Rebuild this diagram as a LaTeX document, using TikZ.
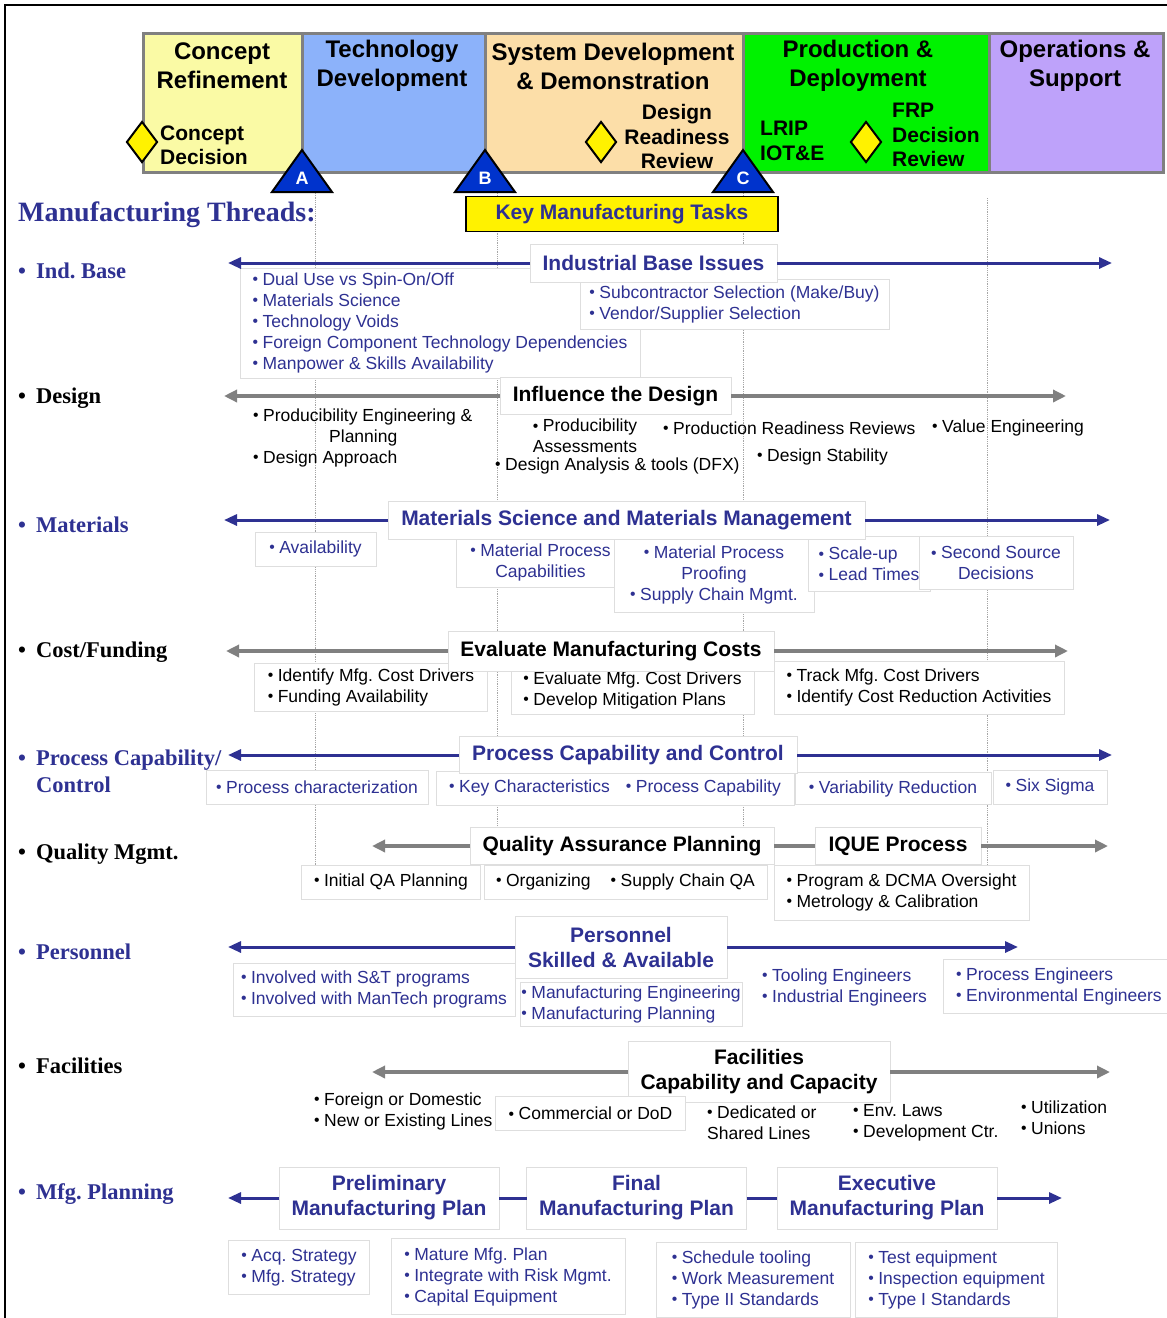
\documentclass[tikz,border=0pt]{standalone}
\usepackage{fontspec}
\usepackage{graphicx}
\setmainfont{Liberation Sans}
\newfontfamily\lblfont{Liberation Serif}
\usetikzlibrary{arrows.meta,shapes.geometric}

\definecolor{tblue}{RGB}{46,49,146}
\definecolor{agray}{RGB}{128,128,128}
\definecolor{boxline}{RGB}{222,222,222}
\definecolor{phA}{RGB}{250,250,165}
\definecolor{phB}{RGB}{140,178,250}
\definecolor{phC}{RGB}{252,222,168}
\definecolor{phD}{RGB}{0,242,0}
\definecolor{phE}{RGB}{190,162,250}
\definecolor{msblue}{RGB}{0,51,204}

% list bullet
\newcommand\bu{\makebox[10pt][l]{\raisebox{0.04em}{\scalebox{0.9}{•}}}}

\tikzset{
  phasebox/.style={draw=agray, line width=3pt, inner sep=0pt, outer sep=0pt, anchor=north west},
  phasetitle/.style={font=\fontsize{24}{29}\selectfont\bfseries, align=center, inner sep=0pt},
  mstext/.style={font=\fontsize{21}{24.5}\selectfont\bfseries, inner sep=0pt},
  gate/.style={diamond, draw=black, line width=2pt, fill=yellow, minimum width=31pt, minimum height=41pt, inner sep=0pt},
  msletter/.style={text=white, font=\fontsize{18}{18}\selectfont\bfseries, inner sep=0pt},
  thread/.style={font=\lblfont\bfseries\fontsize{22.5}{27}\selectfont, anchor=west, inner sep=0pt, align=left},
  hdr/.style={draw=boxline, line width=1pt, fill=white, font=\fontsize{21}{25}\selectfont\bfseries, align=center, inner sep=0pt, outer sep=0pt},
  bbox/.style={draw=boxline, line width=1pt, fill=white, font=\fontsize{17.5}{21}\selectfont, inner sep=0pt, outer sep=0pt},
  btxt/.style={font=\fontsize{17.5}{21}\selectfont, inner sep=0pt},
  barrow/.style={draw=tblue, line width=3pt, -{Triangle[length=13pt,width=11pt]}},
  garrow/.style={draw=agray, line width=3.5pt, -{Triangle[length=13pt,width=12pt]}},
  bline/.style={draw=tblue, line width=3pt},
  gline/.style={draw=agray, line width=3.5pt},
  guide/.style={draw=gray!70, line width=0.8pt, densely dotted},
}

\begin{document}
\frenchspacing
\begin{tikzpicture}[x=1pt,y=-1pt]
\useasboundingbox (0,0) rectangle (1167,1318);
\fill[white] (0,0) rectangle (1167,1318);

% outer frame
\draw[line width=2.5pt] (5,1318) -- (5,5) -- (1167,5);

% milestone guide lines
\draw[guide] (315,193) -- (315,868);
\draw[guide] (497,193) -- (497,868);
\draw[guide] (743,193) -- (743,868);
\draw[guide] (987,198) -- (987,868);

% acquisition phases
\node[phasebox, fill=phA, minimum width=159pt, minimum height=139pt] (ph1) at (143,33) {};
\node[phasebox, fill=phB, minimum width=183pt, minimum height=139pt] (ph2) at (302,33) {};
\node[phasebox, fill=phC, minimum width=258pt, minimum height=139pt] (ph3) at (485,33) {};
\node[phasebox, fill=phD, minimum width=246pt, minimum height=139pt] (ph4) at (743,33) {};
\node[phasebox, fill=phE, minimum width=174pt, minimum height=139pt] (ph5) at (989,33) {};

\node[phasetitle] (ph1t) at (222,66) {Concept\\Refinement};
\node[phasetitle] (ph2t) at (392,66) {Technology\\Development};
\node[phasetitle] (ph3t) at (613,66) {System Development\\\& Demonstration};
\node[phasetitle] (ph4t) at (858,66) {Production \&\\Deployment};
\node[phasetitle] (ph5t) at (1075,66) {Operations \&\\Support};

% decision points
\node[gate] (cd) at (142,142) {};
\node[gate] (drr) at (601,142) {};
\node[gate] (frp) at (866,142) {};
\node[mstext, anchor=west, align=left] (cdt) at (160,145.5) {Concept\\Decision};
\node[mstext, align=center] (drrt) at (677,136.5) {Design\\Readiness\\Review};
\node[mstext, anchor=west, align=left] (lrip) at (760,141) {LRIP\\IOT\&E};
\node[mstext, anchor=west, align=left] (frpt) at (892,135) {FRP\\Decision\\Review};

% milestones A, B, C
\filldraw[fill=msblue, draw=black, line width=2pt] (272,192) -- (302,150) -- (332,192) -- cycle;
\filldraw[fill=msblue, draw=black, line width=2pt] (455,192) -- (485,150) -- (515,192) -- cycle;
\filldraw[fill=msblue, draw=black, line width=2pt] (713,192) -- (743,150) -- (773,192) -- cycle;
\node[msletter] (msA) at (302,178) {A};
\node[msletter] (msB) at (485,178) {B};
\node[msletter] (msC) at (743,178) {C};

\node[draw=black, line width=1.5pt, fill=yellow, minimum width=312pt, minimum height=35pt, inner sep=0pt,
      text=tblue, font=\fontsize{21}{25}\selectfont\bfseries] (kmt) at (622,214) {\raisebox{-2pt}{Key Manufacturing Tasks}};

% thread names
\node[thread, text=tblue] (thT) at (18,215) {\fontsize{28}{30}\selectfont Manufacturing Threads:};
\node[thread, text=tblue] (th1) at (18,271) {\textbullet\hspace{10pt}Ind. Base};
\node[thread] (th2) at (18,398) {\textbullet\hspace{10pt}Design};
\node[thread, text=tblue] (th3) at (18,525) {\textbullet\hspace{10pt}Materials};
\node[thread] (th4) at (18,652) {\textbullet\hspace{10pt}Cost/Funding};
\node[thread, text=tblue] (th5) at (18,771.5) {\textbullet\hspace{10pt}Process Capability/\\\hspace*{18pt}Control};
\node[thread] (th6) at (18,854) {\textbullet\hspace{10pt}Quality Mgmt.};
\node[thread, text=tblue] (th7) at (18,952) {\textbullet\hspace{10pt}Personnel};
\node[thread] (th8) at (18,1066) {\textbullet\hspace{10pt}Facilities};
\node[thread, text=tblue] (th9) at (18,1194) {\textbullet\hspace{10pt}Mfg. Planning};

% ---- Industrial base
\node[bbox, text=tblue, minimum width=400pt, minimum height=110pt, align=left] (ib1) at (440,323)
  {\bu Dual Use vs Spin-On/Off\\ \bu Materials Science\\ \bu Technology Voids\\ \bu Foreign Component Technology Dependencies\\ \bu Manpower \& Skills Availability};
\node[bbox, text=tblue, minimum width=309pt, minimum height=50pt, align=left] (ib2) at (734.5,304)
  {\bu Subcontractor Selection (Make/Buy)\\ \bu Vendor/Supplier Selection};
\node[hdr, text=tblue, minimum width=247pt, minimum height=38pt] (ibh) at (653.5,263) {Industrial Base Issues};
\coordinate (ibL) at (228,263);
\coordinate (ibR) at (1112,263);
\draw[barrow] (ibh.west) -- (ibL);
\draw[barrow] (ibh.east) -- (ibR);

% ---- Design
\node[hdr, minimum width=231pt, minimum height=37pt] (deh) at (615.5,396) {Influence the Design};
\coordinate (deL) at (224,396);
\coordinate (deR) at (1066,396);
\draw[garrow] (deh.west) -- (deL);
\draw[garrow] (deh.east) -- (deR);
\node[btxt, anchor=west, align=left] (de1) at (253,438) {\bu Producibility Engineering \&\\ \hspace*{76pt}Planning\\ \bu Design Approach};
\node[btxt, align=center] (de2) at (585,436) {\bu Producibility\\Assessments};
\node[btxt, anchor=west] (de3) at (495,466) {\bu Design Analysis \& tools (DFX)};
\node[btxt, anchor=west] (de4) at (663,428) {\bu Production Readiness Reviews};
\node[btxt, anchor=west] (de5) at (932,428) {\bu Value Engineering};
\node[btxt, anchor=west] (de6) at (757,457) {\bu Design Stability};

% ---- Materials
\node[bbox, text=tblue, minimum width=121pt, minimum height=34pt] (ma1) at (315.5,549) {\bu Availability};
\node[bbox, text=tblue, minimum width=169pt, minimum height=50pt, align=center] (ma2) at (540.5,562) {\bu Material Process\\Capabilities};
\node[bbox, text=tblue, minimum width=200pt, minimum height=74pt, align=center] (ma3) at (714,575) {\bu Material Process\\Proofing\\ \bu Supply Chain Mgmt.};
\node[bbox, text=tblue, minimum width=122pt, minimum height=55pt, align=left] (ma4) at (869,564) {\bu Scale-up\\ \bu Lead Times};
\node[bbox, text=tblue, minimum width=154pt, minimum height=53pt, align=center] (ma5) at (996,563) {\bu Second Source\\Decisions};
\node[hdr, text=tblue, minimum width=477pt, minimum height=38pt] (mah) at (626.5,520) {Materials Science and Materials Management};
\coordinate (maL) at (224,520);
\coordinate (maR) at (1110,520);
\draw[barrow] (mah.west) -- (maL);
\draw[barrow] (mah.east) -- (maR);

% ---- Cost / funding
\node[bbox, minimum width=233pt, minimum height=48pt, align=left] (cf1) at (371,687) {\bu Identify Mfg. Cost Drivers\\ \bu Funding Availability};
\node[bbox, minimum width=243pt, minimum height=47pt, align=left] (cf2) at (632.5,690.5) {\bu Evaluate Mfg. Cost Drivers\\ \bu Develop Mitigation Plans};
\node[bbox, minimum width=290pt, minimum height=53pt, align=left] (cf3) at (919,687.5) {\bu Track Mfg. Cost Drivers\\ \bu Identify Cost Reduction Activities};
\node[hdr, minimum width=326pt, minimum height=40pt] (cfh) at (611,651) {Evaluate Manufacturing Costs};
\coordinate (cfL) at (226,651);
\coordinate (cfR) at (1068,651);
\draw[garrow] (cfh.west) -- (cfL);
\draw[garrow] (cfh.east) -- (cfR);

% ---- Process capability / control
\node[bbox, text=tblue, minimum width=222pt, minimum height=34pt] (pc1) at (317,787) {\bu Process characterization};
\node[bbox, text=tblue, minimum width=358pt, minimum height=34pt] (pc2) at (615,788) {\bu Key Characteristics\hspace{16pt}\bu Process Capability};
\node[bbox, text=tblue, minimum width=196pt, minimum height=32pt] (pc3) at (893,788.5) {\bu Variability Reduction};
\node[bbox, text=tblue, minimum width=114pt, minimum height=34pt] (pc4) at (1050,787) {\bu Six Sigma};
\node[hdr, text=tblue, minimum width=338pt, minimum height=37pt] (pch) at (628,755) {Process Capability and Control};
\coordinate (pcL) at (228,755);
\coordinate (pcR) at (1112,755);
\draw[barrow] (pch.west) -- (pcL);
\draw[barrow] (pch.east) -- (pcR);

% ---- Quality management
\node[bbox, minimum width=179pt, minimum height=34pt] (qm1) at (391,882) {\bu Initial QA Planning};
\node[bbox, minimum width=283pt, minimum height=34pt] (qm2) at (625.5,882) {\bu Organizing\hspace{20pt}\bu Supply Chain QA};
\node[bbox, minimum width=255pt, minimum height=55pt, align=left] (qm3) at (901.5,892.5) {\bu Program \& DCMA Oversight\\ \bu Metrology \& Calibration};
\node[hdr, minimum width=304pt, minimum height=37pt] (qmh) at (622,846) {Quality Assurance Planning};
\node[hdr, minimum width=166pt, minimum height=37pt] (qmi) at (898,846) {IQUE Process};
\coordinate (qmL) at (372,846);
\coordinate (qmR) at (1108,846);
\draw[garrow] (qmh.west) -- (qmL);
\draw[gline] (qmh.east) -- (qmi.west);
\draw[garrow] (qmi.east) -- (qmR);

% ---- Personnel
\node[hdr, text=tblue, minimum width=212pt, minimum height=62pt] (peh) at (621,947) {Personnel\\Skilled \& Available};
\node[bbox, text=tblue, minimum width=282pt, minimum height=53pt, align=left] (pe1) at (374,989.5) {\bu Involved with S\&T programs\\ \bu Involved with ManTech programs};
\node[bbox, text=tblue, minimum width=222pt, minimum height=44pt, align=left] (pe2) at (631,1004) {\bu Manufacturing Engineering\\ \bu Manufacturing Planning};
\node[btxt, text=tblue, anchor=west, align=left] (pe3) at (762,987) {\bu Tooling Engineers\\ \bu Industrial Engineers};
\node[bbox, text=tblue, minimum width=232pt, minimum height=54pt, align=left] (pe4) at (1059,986) {\bu Process Engineers\\ \bu Environmental Engineers};
\coordinate (peL) at (228,947);
\coordinate (peR) at (1018,947);
\draw[barrow] (peh.west) -- (peL);
\draw[barrow] (peh.east) -- (peR);

% ---- Facilities
\node[hdr, minimum width=262pt, minimum height=61pt] (fah) at (759,1072) {Facilities\\Capability and Capacity};
\coordinate (faL) at (372,1072);
\coordinate (faR) at (1110,1072);
\draw[garrow] (fah.west) -- (faL);
\draw[garrow] (fah.east) -- (faR);
\node[btxt, anchor=west, align=left] (fa1) at (314,1111.5) {\bu Foreign or Domestic\\ \bu New or Existing Lines};
\node[bbox, minimum width=190pt, minimum height=34pt] (fa2) at (590.5,1113.5) {\bu Commercial or DoD};
\node[btxt, anchor=west, align=left] (fa3) at (707,1122.5) {\bu Dedicated or\\Shared Lines};
\node[btxt, anchor=west, align=left] (fa4) at (853,1122.5) {\bu Env. Laws\\ \bu Development Ctr.};
\node[btxt, anchor=west, align=left] (fa5) at (1021,1117.5) {\bu Utilization\\ \bu Unions};

% ---- Manufacturing planning
\node[hdr, text=tblue, minimum width=220pt, minimum height=62pt] (mp1) at (389,1198) {Preliminary\\Manufacturing Plan};
\node[hdr, text=tblue, minimum width=220pt, minimum height=62pt] (mp2) at (636.5,1198) {Final\\Manufacturing Plan};
\node[hdr, text=tblue, minimum width=220pt, minimum height=62pt] (mp3) at (887,1198) {Executive\\Manufacturing Plan};
\coordinate (mpL) at (228,1198);
\coordinate (mpR) at (1062,1198);
\draw[barrow] (mp1.west) -- (mpL);
\draw[bline] (mp1.east) -- (mp2.west);
\draw[bline] (mp2.east) -- (mp3.west);
\draw[barrow] (mp3.east) -- (mpR);
\node[bbox, text=tblue, minimum width=141pt, minimum height=54pt, align=left] (mpb1) at (299,1267.5) {\bu Acq. Strategy\\ \bu Mfg. Strategy};
\node[bbox, text=tblue, minimum width=234pt, minimum height=76pt, align=left] (mpb2) at (508,1276.5) {\bu Mature Mfg. Plan\\ \bu Integrate with Risk Mgmt.\\ \bu Capital Equipment};
\node[bbox, text=tblue, minimum width=194pt, minimum height=75pt, align=left] (mpb3) at (753,1279.5) {\bu Schedule tooling\\ \bu Work Measurement\\ \bu Type II Standards};
\node[bbox, text=tblue, minimum width=202pt, minimum height=75pt, align=left] (mpb4) at (956.5,1279.5) {\bu Test equipment\\ \bu Inspection equipment\\ \bu Type I Standards};

\end{tikzpicture}
\end{document}
